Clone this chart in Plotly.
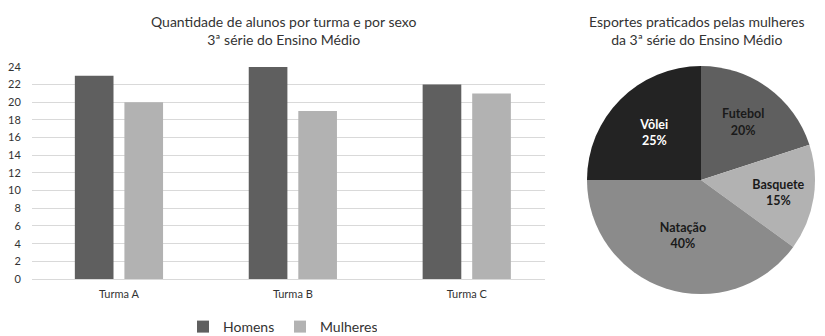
import plotly.graph_objects as go

# ---- data ----
turmas = ["Turma A", "Turma B", "Turma C"]
homens = [23, 24, 22]
mulheres = [20, 19, 21]

esportes = ["Futebol", "Basquete", "Natação", "Vôlei"]
percentuais = [20, 15, 40, 25]

y_ticks = list(range(0, 25, 2))

# ---- styles ----
FONT = "Lato"
C_HOM = "#5f5f5f"
C_MUL = "#b2b2b2"
pie_colors = ["#5f5f5f", "#b2b2b2", "#8b8b8b", "#232323"]
pie_text_colors = ["#1a1a1a", "#1a1a1a", "#1a1a1a", "#ffffff"]

W, H = 825, 336

fig = go.Figure()
fig.add_trace(go.Bar(x=turmas, y=homens, name="Homens", marker_color=C_HOM,
                     marker_line_width=0, xaxis="x", yaxis="y"))
fig.add_trace(go.Bar(x=turmas, y=mulheres, name="Mulheres", marker_color=C_MUL,
                     marker_line_width=0, xaxis="x", yaxis="y"))

fig.add_trace(go.Pie(
    labels=esportes, values=percentuais, sort=False, direction="clockwise",
    rotation=0, marker=dict(colors=pie_colors, line=dict(width=0)),
    texttemplate="<b>%{label}</b><br><b>%{percent:.0%}</b>",
    textposition="inside", insidetextorientation="horizontal",
    textfont=dict(family=FONT, size=12.5, color=pie_text_colors),
    showlegend=False, hoverinfo="label+percent",
    domain=dict(x=[(701 - 114) / W, (701 + 114) / W],
                y=[(H - 180 - 114) / H, (H - 180 + 114) / H]),
))

fig.update_layout(
    width=W, height=H,
    margin=dict(l=0, r=0, t=0, b=0, autoexpand=False),
    paper_bgcolor="white", plot_bgcolor="white",
    font=dict(family=FONT, color="#333333"),
    barmode="group", bargap=0.43, bargroupgap=0.22,
    xaxis=dict(domain=[32 / W, 545 / W], range=[-0.5, 2.45],
               showgrid=False, showline=False, zeroline=False,
               tickfont=dict(size=11, color="#333333"),
               ticks="outside", ticklen=5, tickcolor="rgba(0,0,0,0)"),
    yaxis=dict(domain=[1 - 279 / H, 1 - 66 / H], range=[0, 24.1],
               tickvals=y_ticks, showgrid=True, gridcolor="#d9d9d9", gridwidth=1,
               zeroline=True, zerolinecolor="#d9d9d9", zerolinewidth=1,
               showline=False, tickfont=dict(size=11, color="#333333"),
               ticks="outside", ticklen=8, tickcolor="rgba(0,0,0,0)"),
    legend=dict(orientation="h", x=280 / W, xanchor="center",
                y=1 - 327 / H, yanchor="middle",
                font=dict(size=14, color="#333333"), traceorder="normal",
                itemwidth=30, entrywidth=52, entrywidthmode="pixels"),
    annotations=[
        dict(text="Quantidade de alunos por turma e por sexo<br>3ª série do Ensino Médio",
             x=283 / W, y=1 - 30 / H, xref="paper", yref="paper",
             xanchor="center", yanchor="middle", showarrow=False,
             font=dict(size=14, color="#333333")),
        dict(text="Esportes praticados pelas mulheres<br>da 3ª série do Ensino Médio",
             x=697 / W, y=1 - 30 / H, xref="paper", yref="paper",
             xanchor="center", yanchor="middle", showarrow=False,
             font=dict(size=14, color="#333333")),
    ],
)

fig.write_html("out.html")
